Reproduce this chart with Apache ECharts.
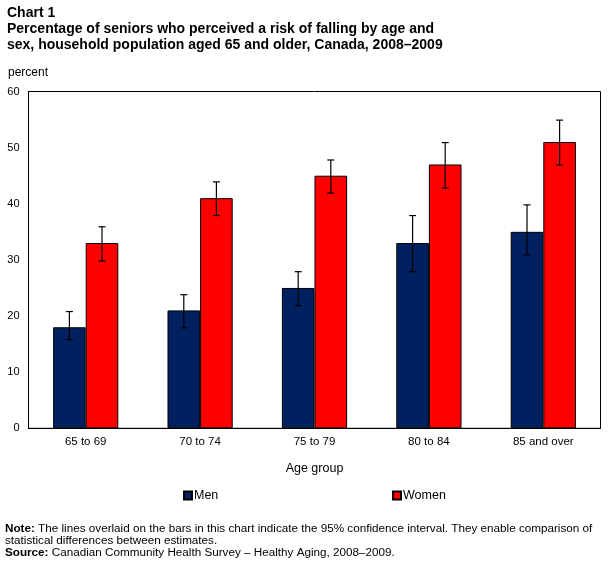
<!DOCTYPE html>
<html>
<head>
<meta charset="utf-8">
<script src="https://cdn.jsdelivr.net/npm/echarts@6/dist/echarts.min.js"></script>
<style>html,body{margin:0;padding:0;background:#fff}#c{width:609px;height:569px}</style>
</head>
<body>
<div id="c"></div>
<script>
const categories = ['65 to 69', '70 to 74', '75 to 79', '80 to 84', '85 and over'];
const menValues = [18, 21, 25, 33, 35];
const menLow = [15.8, 17.9, 21.8, 27.9, 30.9];
const menHigh = [20.8, 23.8, 27.9, 37.9, 39.8];
const womenValues = [33, 41, 45, 47, 51];
const womenLow = [29.8, 37.9, 41.9, 42.8, 46.9];
const womenHigh = [35.9, 43.9, 47.8, 50.9, 54.9];
const yTicks = [0, 10, 20, 30, 40, 50, 60];

const FONT = '"Liberation Sans", Arial, sans-serif';
const BARW = 0.285;

function errSeries(name, low, high, side) {
  return {
    type: 'custom',
    name: name,
    z: 10,
    data: categories.map((c, i) => [i, low[i], high[i]]),
    renderItem: function (params, api) {
      const band = api.size([1, 0])[0];
      const off = side * band * BARW / 2;
      const lo = api.coord([api.value(0), api.value(1)]);
      const hi = api.coord([api.value(0), api.value(2)]);
      const x = lo[0] + off;
      const cap = 3.5;
      const st = { stroke: '#000', lineWidth: 1.2 };
      return {
        type: 'group',
        children: [
          { type: 'line', shape: { x1: x, y1: lo[1], x2: x, y2: hi[1] }, style: st },
          { type: 'line', shape: { x1: x - cap, y1: lo[1], x2: x + cap, y2: lo[1] }, style: st },
          { type: 'line', shape: { x1: x - cap, y1: hi[1], x2: x + cap, y2: hi[1] }, style: st }
        ]
      };
    }
  };
}

const chart = echarts.init(document.getElementById('c'), null, { renderer: 'canvas' });
chart.setOption({
  animation: false,
  backgroundColor: '#fff',
  textStyle: { fontFamily: FONT },
  grid: { left: 28.5, right: 8.5, top: 91.5, bottom: 140.7, show: true, borderColor: '#000', borderWidth: 1, containLabel: false },
  legend: [
    { data: ['Men'], left: 178, top: 484, icon: 'rect', itemWidth: 8, itemHeight: 8, itemGap: 2,
      textStyle: { fontFamily: FONT, fontSize: 12.5, color: '#000', padding: [0, 0, 0, -3] } },
    { data: ['Women'], left: 387, top: 484, icon: 'rect', itemWidth: 8, itemHeight: 8, itemGap: 2,
      textStyle: { fontFamily: FONT, fontSize: 12.5, color: '#000', padding: [0, 0, 0, -3] } }
  ],
  xAxis: {
    type: 'category',
    data: categories,
    axisLine: { lineStyle: { color: '#000', width: 1 } },
    axisTick: { show: false },
    axisLabel: { color: '#000', fontSize: 11.5, margin: 8, fontFamily: FONT },
    name: 'Age group',
    nameLocation: 'middle',
    nameGap: 34,
    nameTextStyle: { color: '#000', fontSize: 12.5, fontFamily: FONT }
  },
  yAxis: {
    type: 'value',
    min: yTicks[0],
    max: yTicks[yTicks.length - 1],
    interval: 10,
    axisLine: { show: true, lineStyle: { color: '#000', width: 1 } },
    axisTick: { show: false },
    splitLine: { show: false },
    axisLabel: { color: '#000', fontSize: 11, margin: 9, fontFamily: FONT }
  },
  series: [
    { type: 'bar', name: 'Men', data: menValues, barWidth: (BARW * 100) + '%', barGap: '0%',
      itemStyle: { color: '#002060', borderColor: '#000', borderWidth: 1 } },
    { type: 'bar', name: 'Women', data: womenValues, barWidth: (BARW * 100) + '%', barGap: '0%',
      itemStyle: { color: '#FF0000', borderColor: '#000', borderWidth: 1 } },
    errSeries('menCI', menLow, menHigh, -1),
    errSeries('womenCI', womenLow, womenHigh, 1)
  ],
  graphic: [
    { type: 'text', left: 7, top: 6, style: { text: 'Chart 1', font: 'bold 14px ' + FONT, fill: '#000' } },
    { type: 'text', left: 7, top: 22, style: { text: 'Percentage of seniors who perceived a risk of falling by age and', font: 'bold 14px ' + FONT, fill: '#000' } },
    { type: 'text', left: 7, top: 38, style: { text: 'sex, household population aged 65 and older, Canada, 2008–2009', font: 'bold 14px ' + FONT, fill: '#000' } },
    { type: 'text', left: 8, top: 67, style: { text: 'percent', font: '12px ' + FONT, fill: '#000' } },
    { type: 'text', left: 5, top: 523, style: {
        text: '{b|Note:} The lines overlaid on the bars in this chart indicate the 95% confidence interval. They enable comparison of',
        font: '11.7px ' + FONT, fill: '#000',
        rich: { b: { fontWeight: 'bold', fontSize: 11.7, fontFamily: FONT } } } },
    { type: 'text', left: 5, top: 535, style: { text: 'statistical differences between estimates.', font: '11.7px ' + FONT, fill: '#000' } },
    { type: 'text', left: 5, top: 547, style: {
        text: '{b|Source:} Canadian Community Health Survey – Healthy Aging, 2008–2009.',
        font: '11.7px ' + FONT, fill: '#000',
        rich: { b: { fontWeight: 'bold', fontSize: 11.7, fontFamily: FONT } } } }
  ]
});
</script>
</body>
</html>
